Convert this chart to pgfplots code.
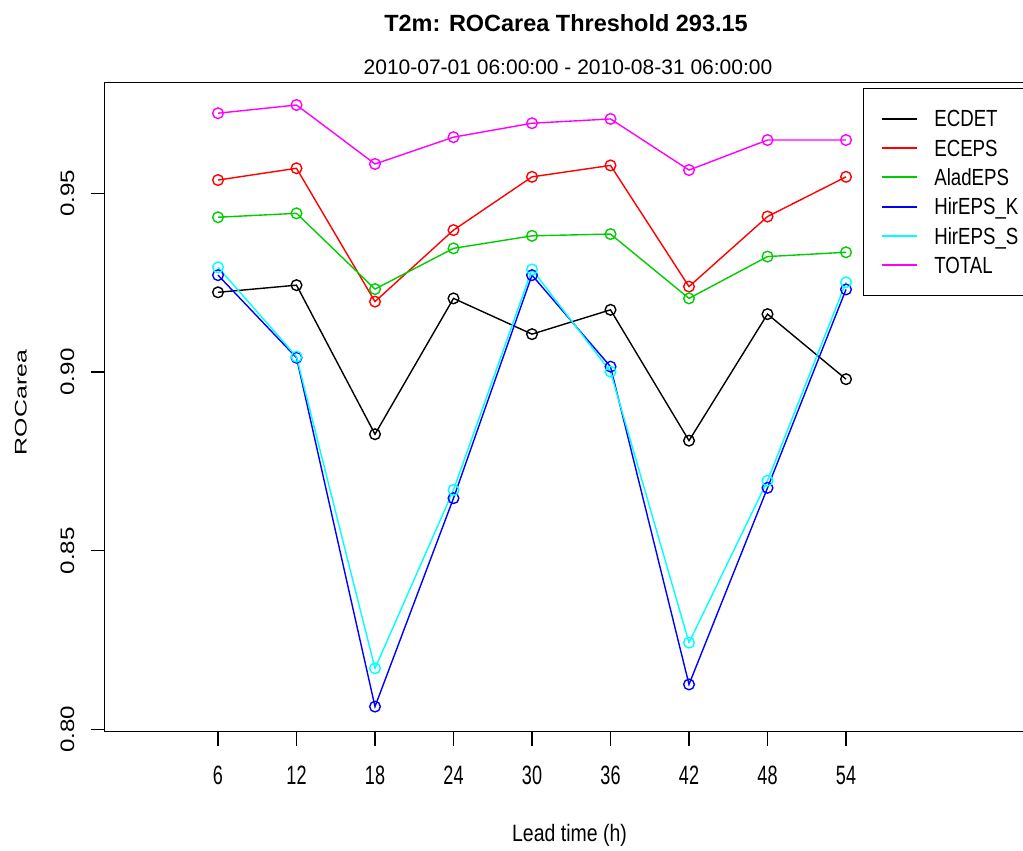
\documentclass[border=0pt]{standalone}
\usepackage{pgfplots}
\usepackage{pgfplotstable}
\pgfplotsset{compat=1.18}
\usepackage{fontspec}
\setmainfont{Liberation Sans}
\newfontfamily\legendfont[FakeStretch=0.8]{Liberation Sans}
\newfontfamily\xtickfont[FakeStretch=0.68]{Liberation Sans}
\newfontfamily\ytickfont[FakeStretch=1.24]{Liberation Sans}
\newfontfamily\ylabfont[FakeStretch=1.48]{Liberation Sans}
\newfontfamily\xlabfont[FakeStretch=0.82]{Liberation Sans}

% R default palette
\definecolor{rblack}{RGB}{0,0,0}
\definecolor{rred}{RGB}{255,0,0}
\definecolor{rgreen}{RGB}{0,205,0}
\definecolor{rblue}{RGB}{0,0,255}
\definecolor{rcyan}{RGB}{0,255,255}
\definecolor{rmagenta}{RGB}{255,0,255}

% ROC area per lead time (h) for each system
\pgfplotstableread{
lead ECDET  ECEPS  AladEPS HirEPSK HirEPSS TOTAL
6    0.9223 0.9537 0.9433  0.9271  0.9293  0.9724
12   0.9243 0.9570 0.9444  0.9040  0.9043  0.9747
18   0.8826 0.9197 0.9232  0.8064  0.8171  0.9582
24   0.9206 0.9397 0.9346  0.8647  0.8670  0.9657
30   0.9106 0.9546 0.9381  0.9271  0.9287  0.9696
36   0.9174 0.9578 0.9386  0.9015  0.9001  0.9708
42   0.8808 0.9239 0.9206  0.8126  0.8243  0.9565
48   0.9162 0.9435 0.9323  0.8676  0.8696  0.9649
54   0.8980 0.9546 0.9335  0.9231  0.9251  0.9649
}\rocdata

\begin{document}
\begin{tikzpicture}
\begin{axis}[
  at={(0,0)}, anchor=south west,
  scale only axis,
  width=694.875pt, height=486.75pt,
  xmin=-2.675, xmax=68.14,
  ymin=0.79938, ymax=0.98094,
  axis line style={line width=1.1pt},
  tick align=outside,
  xtick pos=bottom, ytick pos=left,
  major tick length=10.5pt,
  every tick/.style={black, line width=1pt},
  xtick={6,12,18,24,30,36,42,48,54},
  xticklabels={6,12,18,24,30,36,42,48,54},
  ytick={0.80,0.85,0.90,0.95},
  yticklabels={0.80,0.85,0.90,0.95},
  xticklabel style={font=\xtickfont\fontsize{19.9}{22}\selectfont, anchor=base, yshift=-28.9pt},
  yticklabel style={font=\ytickfont\fontsize{14.6}{16}\selectfont, rotate=90, anchor=base, yshift=12.2pt},
  legend style={
    at={(axis cs:55.31,0.9795)}, anchor=north west,
    draw=black, line width=1pt, fill=white,
    font=\legendfont\fontsize{17.5}{20}\selectfont,
    inner xsep=12.75pt, inner ysep=11.6pt,
    row sep=0pt, column sep=12.5pt,
    nodes={inner sep=0pt, minimum height=22pt, text height=12.5pt, text depth=0pt},
  },
  legend cell align=left,
  legend image code/.code={\draw[#1, mark=none, line width=1.4pt] (0pt,0pt) -- (26.25pt,0pt);},
  every axis plot/.append style={line width=1.05pt, mark=o, mark size=4pt, mark options={solid}},
]
\addplot[rblack]   table[x=lead, y=ECDET]   {\rocdata};
\addlegendentry{ECDET}
\addplot[rred]     table[x=lead, y=ECEPS]   {\rocdata};
\addlegendentry{ECEPS}
\addplot[rgreen]   table[x=lead, y=AladEPS] {\rocdata};
\addlegendentry{AladEPS}
\addplot[rblue]    table[x=lead, y=HirEPSK] {\rocdata};
\addlegendentry{HirEPS\_K}
\addplot[rcyan]    table[x=lead, y=HirEPSS] {\rocdata};
\addlegendentry{HirEPS\_S}
\addplot[rmagenta] table[x=lead, y=TOTAL]   {\rocdata};
\addlegendentry{TOTAL}
\end{axis}

% titles and axis labels, positioned on a 1023 x 850 grid
\begin{scope}[shift={(-78.375pt,548.775pt)}, x=0.75pt, y=-0.75pt]
  \node[anchor=base, font=\bfseries\fontsize{17.6}{20}\selectfont] at (566,32) {T2m: ROCarea Threshold 293.15};
  \node[anchor=base, font=\fontsize{15.75}{18}\selectfont] at (568,75) {2010-07-01 06:00:00 - 2010-08-31 06:00:00};
  \node[anchor=base, font=\xlabfont\fontsize{17.8}{20}\selectfont] at (569.5,841.7) {Lead time (h)};
  \node[anchor=base, rotate=90, font=\ylabfont\fontsize{12.6}{14}\selectfont] at (26.7,402.5) {ROCarea};
  \pgfresetboundingbox
  \path[use as bounding box] (0,0) rectangle (1023,850);
\end{scope}
\end{tikzpicture}
\end{document}
